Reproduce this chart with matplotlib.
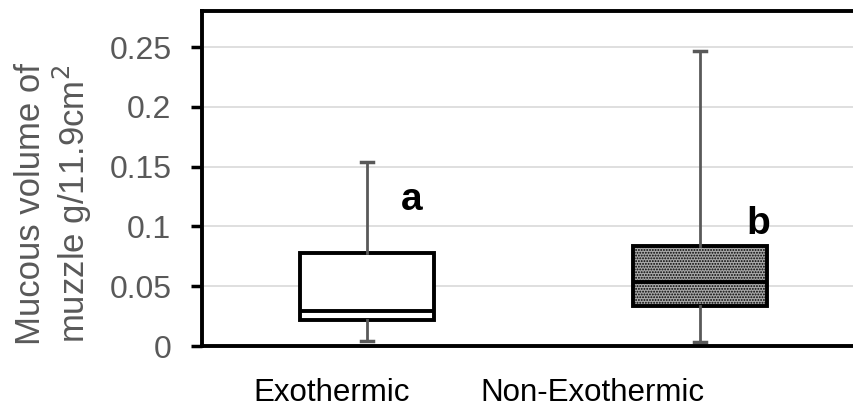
import matplotlib.pyplot as plt
from matplotlib.transforms import ScaledTranslation

# datos
grupos = ['Exothermic', 'Non-Exothermic']
q1 = [0.0217, 0.0334]
medianas = [0.029, 0.0538]
q3 = [0.0778, 0.0839]
minimos = [0.004, 0.0036]
maximos = [0.154, 0.247]
letras = ['a', 'b']
letras_y = [0.122, 0.102]
y_ticks = [0, 0.05, 0.1, 0.15, 0.2, 0.25]
y_labels = ['0', '0.05', '0.1', '0.15', '0.2', '0.25']

plt.rcParams['font.family'] = ['Liberation Sans', 'DejaVu Sans']
plt.rcParams['hatch.linewidth'] = 0.9

fig = plt.figure(figsize=(8.54, 4.12), dpi=100)
ax = fig.add_axes([0.2365, 0.160, 0.7635, 0.813])

stats = []
for i in range(len(grupos)):
    stats.append({'med': medianas[i], 'q1': q1[i], 'q3': q3[i],
                  'whislo': minimos[i], 'whishi': maximos[i], 'fliers': []})

bp = ax.bxp(stats, positions=range(len(grupos)), widths=0.405, patch_artist=True,
            showfliers=False, capwidths=0.036,
            boxprops=dict(edgecolor='black', linewidth=2.8),
            medianprops=dict(color='black', linewidth=2.8),
            whiskerprops=dict(color='#595959', linewidth=2),
            capprops=dict(color='#595959', linewidth=2.5))
bp['boxes'][0].set_facecolor('white')
bp['boxes'][1].set_facecolor('#a8a8a8')
bp['boxes'][1].set_hatch('......')

# letras de significancia
desp_letras = [0.135, 0.174]
for i, l in enumerate(letras):
    ax.text(i + desp_letras[i], letras_y[i], l, fontsize=28, fontweight='bold', ha='center', va='center')

ax.set_xlim(-0.4955, 1.4625)
ax.set_ylim(0, 0.28)
ax.set_yticks(y_ticks)
ax.set_yticklabels(y_labels, fontsize=23, color='#595959')
ax.yaxis.grid(True, color='#d9d9d9', linewidth=1.2)
ax.set_axisbelow(True)
ax.tick_params(axis='y', length=8, width=2.5, pad=14)

ax.set_xticks(range(len(grupos)))
ax.set_xticklabels(grupos, fontsize=22.5)
ax.tick_params(axis='x', length=0, pad=23)
desplazamientos = [-35, -108]
for lab, d in zip(ax.get_xticklabels(), desplazamientos):
    lab.set_transform(lab.get_transform() + ScaledTranslation(d / 100, 0, fig.dpi_scale_trans))

for lado in ['left', 'top', 'bottom']:
    ax.spines[lado].set_linewidth(2.8)
ax.spines['right'].set_visible(False)

fig.text(54 / 854, 0.5 + 0.005, 'Mucous volume of\nmuzzle g/11.9cm$^2$', fontsize=25, color='#595959',
         rotation=90, ha='center', va='center', linespacing=1.1)

fig.savefig('out.png', dpi=100)
plt.close(fig)
